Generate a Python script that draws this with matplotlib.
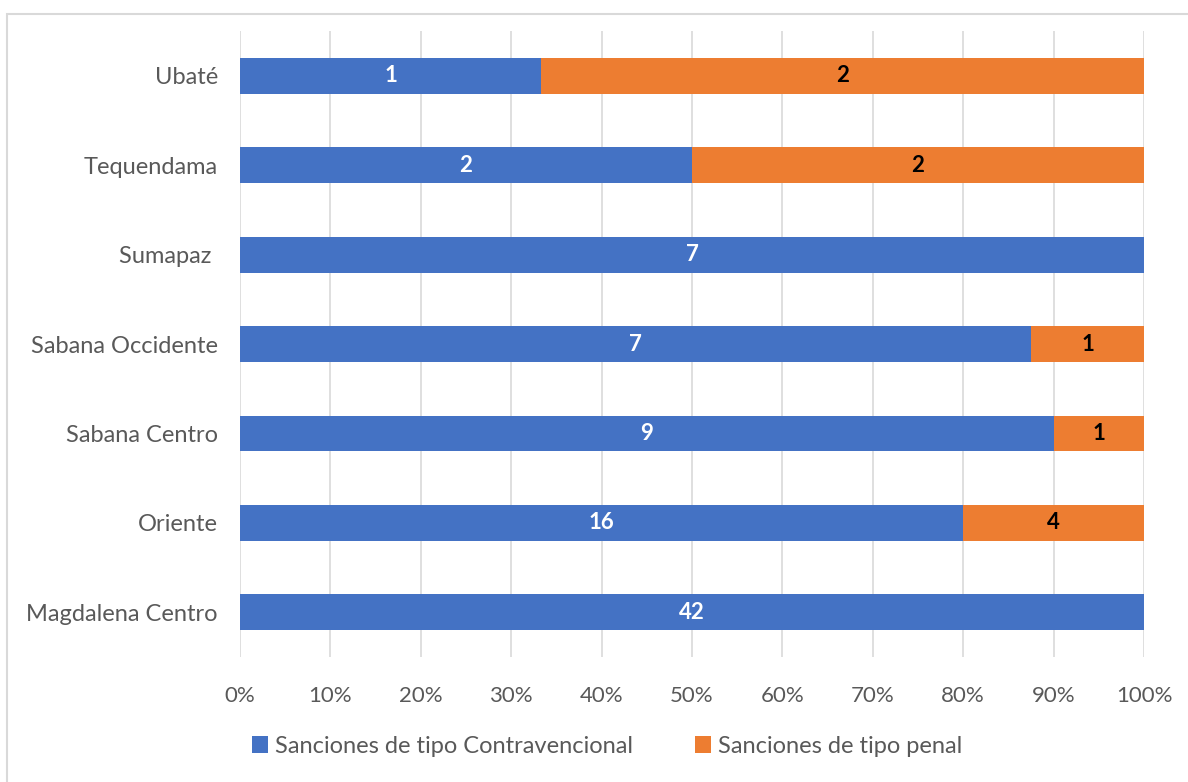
import matplotlib.pyplot as plt
from matplotlib.patches import Rectangle
import numpy as np

plt.rcParams['font.family'] = ['Lato', 'DejaVu Sans']

categories = ['Magdalena Centro', 'Oriente', 'Sabana Centro', 'Sabana Occidente',
              'Sumapaz ', 'Tequendama', 'Ubaté']
contravencional = [42, 16, 9, 7, 7, 2, 1]
penal = [0, 4, 1, 1, 0, 2, 2]
series_names = ['Sanciones de tipo Contravencional', 'Sanciones de tipo penal']
ticks = [0, 10, 20, 30, 40, 50, 60, 70, 80, 90, 100]

blue = '#4472C4'
orange = '#ED7D31'
gray = '#595959'

c = np.array(contravencional, dtype=float)
p = np.array(penal, dtype=float)
tot = c + p
c_pct = c / tot * 100
p_pct = p / tot * 100
y = np.arange(len(categories))

fig = plt.figure(figsize=(11.88, 7.82), dpi=100)
ax = fig.add_axes([0.202, 0.160, 0.761, 0.800])

b1 = ax.barh(y, c_pct, height=0.4, color=blue, label=series_names[0], zorder=3)
b2 = ax.barh(y, p_pct, left=c_pct, height=0.4, color=orange, label=series_names[1], zorder=3)

for i in range(len(categories)):
    if c[i] > 0:
        ax.text(c_pct[i] / 2, y[i], f'{int(c[i])}', ha='center', va='center',
                color='white', fontsize=16, fontweight='bold', zorder=4)
    if p[i] > 0:
        ax.text(c_pct[i] + p_pct[i] / 2, y[i], f'{int(p[i])}', ha='center', va='center',
                color='black', fontsize=16, fontweight='bold', zorder=4)

ax.set_xlim(0, 100)
ax.set_ylim(-0.5, 6.5)
ax.set_xticks(ticks)
ax.set_xticklabels([f'{t}%' for t in ticks])
ax.set_yticks(y)
ax.set_yticklabels(categories)
ax.tick_params(axis='x', length=0, labelsize=16, colors=gray, pad=21)
ax.tick_params(axis='y', length=0, labelsize=17, colors=gray, pad=16)
ax.grid(axis='x', color='#D9D9D9', linewidth=1.2, zorder=0)
for s in ax.spines.values():
    s.set_visible(False)

leg = fig.legend(handles=[b1, b2], loc='center', bbox_to_anchor=(0.511, 0.046), ncol=2,
                 frameon=False, fontsize=17, handlelength=0.7, handleheight=0.7,
                 handletextpad=0.3, columnspacing=2.6)
for t in leg.get_texts():
    t.set_color(gray)

# chart border
fig.patches.append(Rectangle((0.006, -0.01), 1.1, 0.992, transform=fig.transFigure,
                             fill=False, edgecolor='#D9D9D9', linewidth=1.5))

fig.savefig('out.png', dpi=100)
